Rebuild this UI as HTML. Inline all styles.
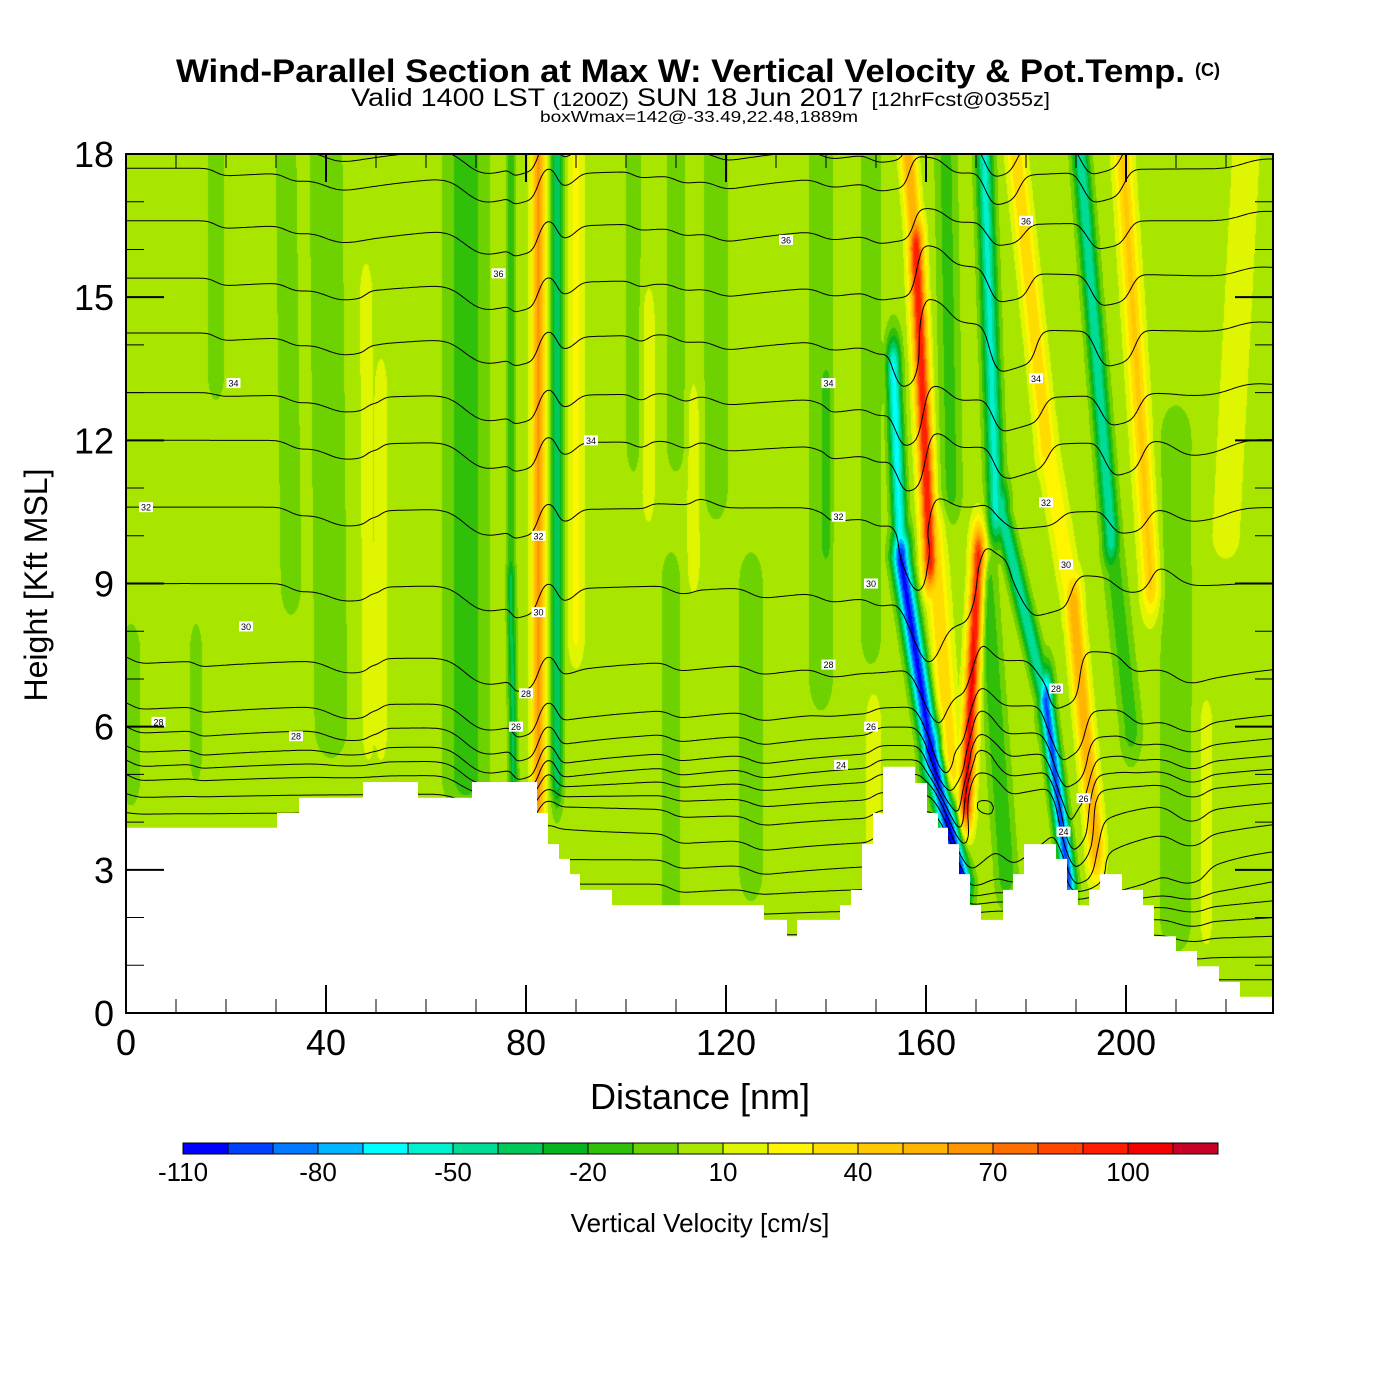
<!DOCTYPE html>
<html><head><meta charset="utf-8"><title>Wind-Parallel Section</title>
<style>
html,body{margin:0;padding:0;background:#fff;}
#wrap{position:relative;width:1400px;height:1400px;overflow:hidden;background:#fff;}
#field{position:absolute;left:126px;top:154px;}
#svg{position:absolute;left:0;top:0;}
text{font-family:"Liberation Sans",Arial,sans-serif;}
</style></head>
<body>
<div id="wrap">
<canvas id="field" width="1147" height="859"></canvas>
<svg id="svg" width="1400" height="1400" xmlns="http://www.w3.org/2000/svg">
  <text x="176" y="82" font-size="32" font-weight="bold" textLength="1009" lengthAdjust="spacingAndGlyphs">Wind-Parallel Section at Max W: Vertical Velocity &amp; Pot.Temp.</text>
  <text x="1195" y="76" font-size="18" font-weight="bold">(C)</text>
  <text x="351" y="106" font-size="25" textLength="699" lengthAdjust="spacingAndGlyphs">Valid 1400 LST <tspan font-size="19">(1200Z)</tspan> SUN 18 Jun 2017 <tspan font-size="19">[12hrFcst@0355z]</tspan></text>
  <text x="540" y="122" font-size="16" textLength="318" lengthAdjust="spacingAndGlyphs">boxWmax=142@-33.49,22.48,1889m</text>
  <g id="isentropes"></g>
  <path id="terrain" fill="#fff" stroke="none"></path>
  <g id="clabels"></g>
  <g id="axes"></g>
  <g id="cbar"></g>
  <text x="700" y="1109" font-size="36" text-anchor="middle">Distance [nm]</text>
  <text x="0" y="0" font-size="32" text-anchor="middle" transform="translate(47,585) rotate(-90)">Height [Kft MSL]</text>
  <text x="700" y="1232" font-size="26" text-anchor="middle">Vertical Velocity [cm/s]</text>
</svg>
</div>
<script>
// ---------- data ----------
const xTicks = [0,40,80,120,160,200];
const yTicks = [0,3,6,9,12,15,18];
const cbarLabels = [-110,-80,-50,-20,10,40,70,100];
const cbarColors = ["#0000ff","#0040ff","#0078ff","#00b4ff","#00ffff","#00f0d0","#00dc96","#00c85a","#05b41e","#30c00a","#6ed200","#a8e600","#e0f500","#fff500","#ffdc00","#ffc800","#ffb400","#ff9600","#ff6e00","#ff4600","#ff1e00","#f50000","#c80028"];
const cbarMin = -110, cbarStep = 10;
const baseW = 5;
// vertical velocity bands: start (x nm, z kft), end (x nm, z kft), amplitude (cm/s), half-width (nm)
const bandX0 = [1,14,18,33,41,48.5,51,68,77.5,77,82.5,86.2,90,101.5,104.5,110,113.5,118,109,125,139,140,149,149.5,167,161,155,160.8,158,165,168,188.5,184,174,176,194,189.5,184,190.5,197,199,210,216,220,165];
const bandZ0 = [5,5.5,13.5,9,6,6,6,5,4.9,9,4.5,5,8,12,11,12,9.5,11,2,3,7,10,8,3.8,2.8,5.5,9.5,9.5,16,5,4.5,2.8,6.5,10.5,3,3.5,8.5,12,18.5,10,18.5,2,2,10,11];
const bandX1 = [1,14,18,32,40,48,51,68,77,77,82.5,86.2,90,101.5,104.5,110,113.5,118,109,125,139,140,149,149.5,161,155,153.5,158,156,161.5,170.5,184,175,171.5,172,189.5,184,177.5,197,201,205,210,216,224,164];
const bandZ1 = [7.5,7.5,18,18,18,15,13,18,9,18,18,18,18,18,14.5,18,12.5,18,9,9,18,13,18,6,5.5,9.5,13.5,16,18.5,10,9.5,6.5,10.5,18.5,9,8.5,12,18.5,10,6,9,12,6,18,18];
const bandAmp = [-12,-12,-12,-12,-12,14,14,-22,-40,-25,60,-45,18,-12,14,-12,14,-12,-12,-12,-12,-25,-14,14,-115,-110,-70,95,55,35,100,-100,-55,-60,-25,55,25,35,-55,-22,38,-15,10,8,-20];
const bandW = [2,1.3,1.8,2.2,3.5,1.2,1.2,4,0.8,0.8,1.3,1.1,1.6,1.5,1.2,2,1.2,2.5,2,2.5,2.5,1.2,2,1.5,1.9,1.8,1.4,1.5,1.5,2,1.4,1.4,1.6,1.6,2,1.6,2,1.8,1.6,2,1.8,3,1.5,4,2];
// terrain steps: start x (nm), height (kft)
const terrX = [0,30.2,34.6,47.4,58.4,69.2,82.2,84.4,86.6,88.8,90.8,97.2,127.6,132.2,134.2,142.8,145,147.2,149.4,151.4,157.8,160.2,162.4,164.4,166.6,168.8,171,175.4,177.4,179.6,186,188.2,190.4,192.6,194.8,199.2,203.4,205.6,210,214.2,218.6,222.8];
const terrZ = [3.88,4.19,4.51,4.84,4.51,4.84,4.19,3.54,3.23,2.91,2.58,2.26,1.95,1.61,1.95,2.26,2.58,3.54,4.19,5.16,4.82,4.19,3.88,3.54,2.91,2.26,1.95,2.58,2.91,3.54,3.23,2.58,2.26,2.58,2.91,2.58,2.26,1.61,1.30,0.98,0.65,0.34];
// potential temperature isentrope levels (height at left edge, kft)
const thetaLevels = [18.3,17.7,16.6,15.4,14.25,13.0,12.0,10.6,9.0,7.46,6.5,6.0,5.6,5.3,5.0,4.6,4.2,3.7,3.2,2.7,2.2,1.7,1.2,0.7];
// contour labels
const labelText = ["36","34","32","30","28","28","28","26","36","34","32","30","34","32","30","28","26","24","36","34","32","30","28","26","24"];
const labelX = [74.5,21.5,4,24,6.5,34,80,78,132,93,82.5,82.5,140.5,142.5,149,140.5,149,143,180,182,184,188,186,191.5,187.5];
const labelZ = [15.5,13.2,10.6,8.1,6.1,5.8,6.7,6.0,16.2,12.0,10.0,8.4,13.2,10.4,9.0,7.3,6.0,5.2,16.6,13.3,10.7,9.4,6.8,4.5,3.8];

// ---------- scales ----------
const PL=126, PT=154, PW=1147, PH=859, XMAX=229.4, ZMAX=18;
const sx = x => PL + x/XMAX*PW;
const sz = z => PT + PH - z/ZMAX*PH;
const NS="http://www.w3.org/2000/svg";
function mk(tag, attrs, parent){const e=document.createElementNS(NS,tag);for(const k in attrs)e.setAttribute(k,attrs[k]);parent.appendChild(e);return e;}

// ---------- field ----------
function fieldAt(x,z){
  let pos=0,neg=0;
  for(let i=0;i<bandX0.length;i++){
    const z0=bandZ0[i], z1=bandZ1[i];
    let t=(z-z0)/(z1-z0); if(t<0)t=0; if(t>1)t=1;
    const zc=z0+t*(z1-z0);
    const dz=Math.abs(z-zc);
    if(dz>2.5) continue;
    const xc=bandX0[i]+t*(bandX1[i]-bandX0[i]);
    const dx=(x-xc)/bandW[i];
    if(Math.abs(dx)>4) continue;
    const v=bandAmp[i]*Math.exp(-(dz/0.7)*(dz/0.7))*Math.exp(-dx*dx);
    if(v>pos)pos=v; if(v<neg)neg=v;
  }
  return baseW+pos+neg;
}
const GX=0.5, GZ=0.1;
const NX=Math.ceil(XMAX/GX)+1, NZ=Math.round(ZMAX/GZ)+1;
const grid=new Float32Array(NX*NZ);
for(let j=0;j<NZ;j++)for(let i=0;i<NX;i++)grid[j*NX+i]=fieldAt(i*GX,j*GZ);

function hex2rgb(h){return [parseInt(h.slice(1,3),16),parseInt(h.slice(3,5),16),parseInt(h.slice(5,7),16)];}
const rgbs=cbarColors.map(hex2rgb);
(function paint(){
  const cv=document.getElementById('field');const ctx=cv.getContext('2d');
  const img=ctx.createImageData(PW,PH);const d=img.data;
  for(let py=0;py<PH;py++){
    const z=(PH-py-0.5)/PH*ZMAX; const fj=z/GZ; let j0=Math.floor(fj); if(j0>=NZ-1)j0=NZ-2; const tz=fj-j0;
    for(let px=0;px<PW;px++){
      const x=(px+0.5)/PW*XMAX; const fi=x/GX; let i0=Math.floor(fi); if(i0>=NX-1)i0=NX-2; const tx=fi-i0;
      const a=grid[j0*NX+i0],b=grid[j0*NX+i0+1],c=grid[(j0+1)*NX+i0],e=grid[(j0+1)*NX+i0+1];
      const v=(a*(1-tx)+b*tx)*(1-tz)+(c*(1-tx)+e*tx)*tz;
      let k=Math.floor((v-cbarMin)/cbarStep); if(k<0)k=0; if(k>22)k=22;
      const col=rgbs[k]; const o=(py*PW+px)*4;
      d[o]=col[0];d[o+1]=col[1];d[o+2]=col[2];d[o+3]=255;
    }
  }
  ctx.putImageData(img,0,0);
})();

// ---------- isentropes (displacement from integrated w, with relaxation) ----------
const K=0.0045, RELAX=25;
const decay=Math.exp(-GX/RELAX);
const S=new Float32Array(NX*NZ);
for(let j=0;j<NZ;j++){let acc=0;for(let i=0;i<NX;i++){if(i>0)acc=acc*decay+((grid[j*NX+i-1]+grid[j*NX+i])/2-baseW)*GX;S[j*NX+i]=j*GZ-K*acc;}}
(function contours(){
  const g=document.getElementById('isentropes');
  for(let L=0;L<thetaLevels.length;L++){
    const lev=thetaLevels[L]; let dstr="";
    for(let j=0;j<NZ-1;j++)for(let i=0;i<NX-1;i++){
      const v=[S[j*NX+i],S[j*NX+i+1],S[(j+1)*NX+i+1],S[(j+1)*NX+i]];
      const p=[[i,j],[i+1,j],[i+1,j+1],[i,j+1]];
      const pts=[];
      for(let e=0;e<4;e++){const a=v[e],b=v[(e+1)%4];
        if((a<lev)!==(b<lev)){const t=(lev-a)/(b-a);const pa=p[e],pb=p[(e+1)%4];
          pts.push([sx((pa[0]+t*(pb[0]-pa[0]))*GX),sz((pa[1]+t*(pb[1]-pa[1]))*GZ)]);}}
      for(let q=0;q+1<pts.length;q+=2)dstr+="M"+pts[q][0].toFixed(1)+" "+pts[q][1].toFixed(1)+"L"+pts[q+1][0].toFixed(1)+" "+pts[q+1][1].toFixed(1);
    }
    const path=mk('path',{d:dstr,fill:'none',stroke:'#000','stroke-width':'1'},g);
    
    
  }
})();

// ---------- terrain ----------
(function terrain(){
  let d="M"+sx(0)+" "+sz(0);
  for(let i=0;i<terrX.length;i++){const x1=(i+1<terrX.length)?terrX[i+1]:XMAX;
    d+="L"+sx(terrX[i]).toFixed(1)+" "+sz(terrZ[i]).toFixed(1)+"L"+sx(x1).toFixed(1)+" "+sz(terrZ[i]).toFixed(1);}
  d+="L"+sx(XMAX)+" "+sz(0)+"Z";
  document.getElementById('terrain').setAttribute('d',d);
})();

// ---------- contour labels ----------
(function clabels(){
  const g=document.getElementById('clabels');
  for(let i=0;i<labelText.length;i++){
    const x=sx(labelX[i]), y=sz(labelZ[i]);
    const r=mk('rect',{x:x-7,y:y-5,width:14,height:10,fill:'#fff'},g);
    
    
    const t=mk('text',{x:x,y:y+3.5,'font-size':'9','text-anchor':'middle'},g);
    t.textContent=labelText[i];
    
    
  }
})();

// ---------- axes ----------
(function axes(){
  const g=document.getElementById('axes');
  const fr=mk('rect',{x:PL,y:PT,width:PW,height:PH,fill:'none',stroke:'#000','stroke-width':'2'},g);
  
  
  for(let z=0;z<=18;z++){
    const major=(z%3===0); const len=major?38:18; const y=sz(z);
    const l1=mk('line',{x1:PL,y1:y,x2:PL+len,y2:y,stroke:'#000','stroke-width':major?2:1},g);
    
    
    const l2=mk('line',{x1:PL+PW,y1:y,x2:PL+PW-len,y2:y,stroke:'#000','stroke-width':major?2:1},g);
    
    
  }
  for(let x=0;x<=XMAX;x+=10){
    const major=(x%40===0); const len=major?28:14; const px=sx(x);
    const l1=mk('line',{x1:px,y1:PT+PH,x2:px,y2:PT+PH-len,stroke:'#000','stroke-width':major?2:1},g);
    
    
    const l2=mk('line',{x1:px,y1:PT,x2:px,y2:PT+len,stroke:'#000','stroke-width':major?2:1},g);
    
    
  }
  for(const v of yTicks){
    const t=mk('text',{x:114,y:sz(v)+13,'font-size':'36','text-anchor':'end'},g);
    t.textContent=String(v);
    
    
  }
  for(const v of xTicks){
    const t=mk('text',{x:sx(v),y:1055,'font-size':'36','text-anchor':'middle'},g);
    t.textContent=String(v);
    
    
  }
})();

// ---------- colorbar ----------
(function cbar(){
  const g=document.getElementById('cbar');
  const x0=183, bw=45, y0=1143, h=11;
  for(let i=0;i<cbarColors.length;i++){
    const r=mk('rect',{x:x0+i*bw,y:y0,width:bw,height:h,fill:cbarColors[i],stroke:'#000','stroke-width':'1'},g);
    
    
  }
  for(const v of cbarLabels){
    const t=mk('text',{x:x0+(v-cbarMin)/cbarStep*bw,y:1181,'font-size':'26','text-anchor':'middle'},g);
    t.textContent=String(v);
    
    
  }
})();
</script>
</body></html>
